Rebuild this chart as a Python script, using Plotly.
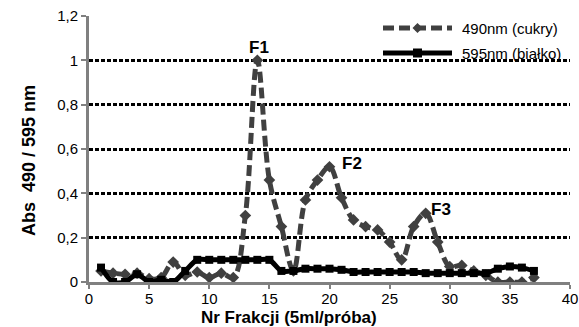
import plotly.graph_objects as go

fractions = list(range(1, 38))
abs_490 = [0.05, 0.04, 0.035, 0.04, 0.015, 0.02, 0.09, 0.03, 0.045, 0.02, 0.04, 0.02,
           0.30, 1.00, 0.46, 0.25, 0.05, 0.37, 0.46, 0.52, 0.38, 0.28, 0.25, 0.235,
           0.18, 0.10, 0.25, 0.31, 0.18, 0.07, 0.075, 0.05, 0.03, 0.0, 0.0, 0.0, 0.02]
abs_595 = [0.065, 0.0, 0.0, 0.035, 0.0, 0.01, 0.0, 0.05, 0.10, 0.10, 0.10, 0.10,
           0.10, 0.10, 0.10, 0.05, 0.05, 0.06, 0.06, 0.06, 0.055, 0.045, 0.045, 0.045,
           0.045, 0.045, 0.045, 0.04, 0.04, 0.04, 0.04, 0.04, 0.04, 0.06, 0.07, 0.065, 0.05]
y_ticks = [0, 0.2, 0.4, 0.6, 0.8, 1.0, 1.2]
y_tick_labels = ["0", "0,2", "0,4", "0,6", "0,8", "1", "1,2"]
x_ticks = [0, 5, 10, 15, 20, 25, 30, 35, 40]
peak_labels = ["F1", "F2", "F3"]
peak_x = [14.1, 21.9, 29.3]
peak_y = [1.058, 0.535, 0.327]
series_names = ["490nm (cukry)", "595nm (białko)"]

FONT = "Liberation Sans, Arial, sans-serif"
GRAY = "#404040"

# plot-area geometry in pixels (used for paper-coordinate conversions)
L, R, T, B, W, H = 89, 9, 16, 45, 579, 327
PW, PH = W - L - R, H - T - B


def px_x(p):
    return (p - L) / PW


def px_y(p):
    return (H - B - p) / PH


fig = go.Figure()
fig.add_trace(go.Scatter(
    x=fractions, y=abs_490, name=series_names[0], mode="lines+markers",
    line=dict(color=GRAY, width=5, dash="11px,5px", shape="spline", smoothing=1),
    marker=dict(symbol="diamond", size=9, color=GRAY),
))
fig.add_trace(go.Scatter(
    x=fractions, y=abs_595, name=series_names[1], mode="lines+markers",
    line=dict(color="#000000", width=5, shape="spline", smoothing=0.8),
    marker=dict(symbol="square", size=8, color="#000000"),
))

for t, xx, yy in zip(peak_labels, peak_x, peak_y):
    fig.add_annotation(x=xx, y=yy, text="<b>%s</b>" % t, showarrow=False,
                       font=dict(family=FONT, size=17, color="#000000"))

# axis titles
fig.add_annotation(xref="paper", yref="paper", x=px_x(289), y=px_y(317),
                   xanchor="center", yanchor="middle", showarrow=False,
                   text="<b>Nr Frakcji (5ml/próba)</b>",
                   font=dict(family=FONT, size=17, color="#000000"))
fig.add_annotation(xref="paper", yref="paper", x=px_x(29), y=px_y(161),
                   xanchor="center", yanchor="middle", showarrow=False, textangle=-90,
                   text="<b>Abs  490 / 595 nm</b>",
                   font=dict(family=FONT, size=18, color="#000000"))

# legend (drawn manually to get the long line samples)
leg_rows = [28, 53]
x0, x1, xt = 383, 452, 460
xc = (x0 + x1) / 2
fig.add_shape(type="line", xref="paper", yref="paper",
              x0=px_x(x0), x1=px_x(x1), y0=px_y(leg_rows[0]), y1=px_y(leg_rows[0]),
              line=dict(color=GRAY, width=5, dash="11px,5px"))
d = 5
fig.add_shape(type="path", xref="paper", yref="paper",
              path="M %f %f L %f %f L %f %f L %f %f Z" % (
                  px_x(xc - d), px_y(leg_rows[0]), px_x(xc), px_y(leg_rows[0] - d),
                  px_x(xc + d), px_y(leg_rows[0]), px_x(xc), px_y(leg_rows[0] + d)),
              fillcolor=GRAY, line=dict(width=0))
fig.add_shape(type="line", xref="paper", yref="paper",
              x0=px_x(x0), x1=px_x(x1), y0=px_y(leg_rows[1]), y1=px_y(leg_rows[1]),
              line=dict(color="#000000", width=5))
s = 4.5
fig.add_shape(type="rect", xref="paper", yref="paper",
              x0=px_x(xc - s), x1=px_x(xc + s), y0=px_y(leg_rows[1] + s), y1=px_y(leg_rows[1] - s),
              fillcolor="#000000", line=dict(width=0))
for name, row in zip(series_names, leg_rows):
    fig.add_annotation(xref="paper", yref="paper", x=px_x(xt), y=px_y(row),
                       xanchor="left", yanchor="middle", showarrow=False, text=name,
                       font=dict(family=FONT, size=15, color="#000000"))

fig.update_layout(
    width=W, height=H,
    margin=dict(l=L, r=R, t=T, b=B, autoexpand=False),
    paper_bgcolor="white", plot_bgcolor="white",
    font=dict(family=FONT, size=15, color="#000000"),
    showlegend=False,
    xaxis=dict(range=[0, 40], tickvals=x_ticks, showgrid=False, zeroline=False,
               showline=True, linecolor="#808080", linewidth=3,
               ticks="outside", tickcolor="#808080", ticklen=4, tickwidth=2,
               ticklabelstandoff=-3,
               tickfont=dict(size=15, color="#000000")),
    yaxis=dict(range=[0, 1.2], tickvals=y_ticks, ticktext=y_tick_labels,
               showgrid=True, gridcolor="#000000", gridwidth=2.5, griddash="4px,2px",
               zeroline=False, showline=True, linecolor="#808080", linewidth=3,
               ticks="outside", tickcolor="#808080", ticklen=5, tickwidth=2,
               tickfont=dict(size=15, color="#000000")),
)

fig.write_html("out.html", config={"displayModeBar": False},
               post_script="document.body.style.margin='0';")
